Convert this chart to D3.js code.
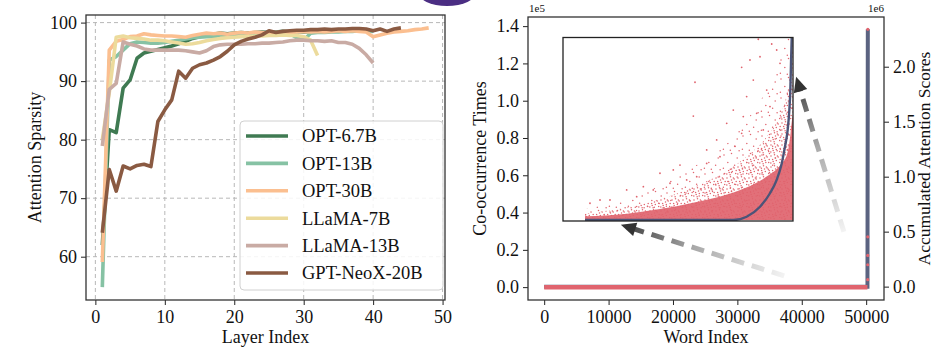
<!DOCTYPE html>
<html>
<head>
<meta charset="utf-8">
<script src="https://cdn.jsdelivr.net/npm/d3@7"></script>
<style>
  body { margin: 0; background: #fff; }
  svg text { font-family: "Liberation Serif", "Times New Roman", serif; fill: #111; }
</style>
</head>
<body>
<div id="chart"></div>
<script>
//// ---------- left panel data (attention sparsity per layer)
var layerTicks = [0, 10, 20, 30, 40, 50];
var sparsityTicks = [60, 70, 80, 90, 100];
var modelNames = ["OPT-6.7B", "OPT-13B", "OPT-30B", "LLaMA-7B", "LLaMA-13B", "GPT-NeoX-20B"];
var modelColors = ["#3f7a52", "#86c2a4", "#fbbf90", "#ecdb9c", "#c9aba4", "#8a5a42"];

var opt67b = [62, 81.7, 81.2, 88.8, 90.2, 93.9, 94.8, 95.1, 95.4, 95.7, 96.0, 96.4, 96.8, 97.3, 97.6, 98.0,
  98.0, 98.2, 98.1, 98.2, 98.3, 98.2, 98.3, 98.4, 98.3, 98.4, 98.5, 98.4, 98.5, 98.4, 98.5, 98.6];
var opt13b = [54.8, 93.6, 94.2, 95.3, 96.4, 96.7, 96.6, 96.5, 96.5, 96.6, 96.8, 97.0, 97.2, 97.4, 97.5, 97.6,
  97.6, 97.8, 97.9, 98.0, 98.0, 98.1, 98.1, 98.2, 98.2, 98.3, 98.2, 98.1, 97.4, 97.0, 98.2, 98.3,
  98.3, 98.4, 98.4, 98.5, 98.5, 98.6, 98.6, 98.5];
var opt30b = [59.1, 95.3, 96.8, 97.1, 97.6, 97.7, 98.1, 97.9, 97.8, 97.7, 97.7, 97.6, 97.5, 97.8, 98.0, 98.2,
  98.1, 98.2, 98.0, 98.2, 98.3, 98.2, 98.4, 98.3, 98.2, 98.3, 98.4, 98.3, 98.4, 98.5, 98.4, 98.5,
  98.4, 98.5, 98.6, 98.5, 98.6, 98.5, 98.4, 97.6, 97.9, 98.2, 98.4, 98.5, 98.6, 98.8, 98.9, 99.1];
var llama7b = [80, 88, 97.5, 97.7, 97.4, 97.3, 97.2, 97.0, 97.0, 96.9, 96.7, 96.5, 96.3, 96.4, 96.6, 96.9,
  97.1, 97.3, 97.4, 97.5, 97.6, 97.6, 97.7, 97.7, 97.8, 97.8, 97.9, 97.8, 97.8, 97.6, 97.0, 94.4];
var llama13b = [78.9, 88.6, 89.6, 96.7, 96.3, 96.0, 95.5, 95.3, 95.3, 95.3, 95.3, 95.3, 95.2, 95.0, 94.8, 95.2,
  95.9, 96.2, 96.3, 96.3, 96.3, 96.4, 96.4, 96.5, 96.5, 96.6, 96.7, 96.9, 97.0, 97.0, 96.9, 96.9,
  96.8, 96.9, 96.6, 96.6, 96.3, 95.6, 94.5, 93.1];
var neox20b = [64.1, 74.9, 71.2, 75.5, 75.0, 75.6, 75.8, 75.4, 83.1, 85.1, 86.8, 91.7, 90.5, 92.2, 92.8, 93.1,
  93.6, 94.2, 95.1, 96.2, 96.8, 97.2, 97.5, 97.9, 98.6, 98.3, 98.5, 98.6, 98.7, 98.7, 98.8, 98.8,
  98.9, 98.8, 98.9, 98.9, 99.0, 99.0, 98.9, 98.6, 98.9, 98.5, 98.9, 99.1];
var sparsitySeries = [opt67b, opt13b, opt30b, llama7b, llama13b, neox20b];

//// ---------- right panel data (co-occurrence vs accumulated attention)
var wordTicks = [0, 10000, 20000, 30000, 40000, 50000];
var coocTicks = [0, 20000, 40000, 60000, 80000, 100000, 120000, 140000];
var attnTicks = [0, 500000, 1000000, 1500000, 2000000];
var vocabSize = 50257;
// accumulated attention score, sorted by word index (flat then a spike at the tail)
var attnCurve = [[0, 0], [50200, 0], [50257, 2340000]];
// co-occurrence times: the bulk sits at ~0, a few tail words are large
var coocBase = [[0, 0], [50200, 0]];
var coocTail = [[50240, 4000], [50245, 12000], [50248, 17000], [50250, 27000], [50257, 138300]];
// inset (zoomed, normalised 0..1): curve, dense band, scatter envelopes, outliers
var insetCurve = [[2741, 0], [36620, 0], [39670, 0.018], [42720, 0.073], [45000, 0.147], [46530, 0.22],
  [47680, 0.311], [48430, 0.403], [49040, 0.495], [49420, 0.604], [49650, 0.714], [49800, 0.861], [49960, 1.0]];
var insetCore = [[2741, 0.02], [12336, 0.035], [19874, 0.06], [27413, 0.095], [35180, 0.14], [39749, 0.18],
  [44318, 0.24], [47288, 0.3], [48887, 0.36], [49572, 0.45], [50029, 0.55], [50257, 0.58]];
var insetMid = [[2741, 0.035], [12336, 0.07], [19874, 0.115], [27413, 0.18], [35180, 0.27], [39749, 0.35],
  [44318, 0.46], [47288, 0.58], [48887, 0.7], [49572, 0.82], [50029, 0.95], [50257, 0.97]];
var insetOuter = [[2741, 0.06], [12336, 0.12], [19874, 0.19], [27413, 0.29], [35180, 0.42], [39749, 0.55],
  [44318, 0.72], [47288, 0.88], [48887, 1.0], [50257, 1.0]];
var insetOutliers = [[42330, 0.993], [45390, 0.967], [27870, 0.757], [27490, 0.571], [38530, 0.839], [40430, 0.879],
  [39670, 0.678], [38530, 0.476], [32820, 0.44], [30540, 0.385], [24440, 0.302], [19870, 0.257], [16070, 0.183],
  [12260, 0.165], [8450, 0.11], [6170, 0.11], [3880, 0.092], [30540, 0.311], [35110, 0.531], [36620, 0.604],
  [41190, 0.769], [42720, 0.897], [46530, 0.934], [47290, 0.861], [44250, 0.714], [41960, 0.586], [33580, 0.348],
  [28260, 0.238], [22160, 0.202], [18340, 0.165], [14550, 0.128], [37010, 0.405], [43470, 0.495], [45000, 0.623],
  [38900, 0.568], [25970, 0.22], [22910, 0.275]];
// annotation arrows (data coords: word index, co-occurrence)
var arrows = [
  { from: [37270, 6100], to: [11910, 33400] },
  { from: [46540, 29650], to: [39120, 112800] }
];

var W = 935, H = 348;
var svg = d3.select("#chart").append("svg").attr("width", W).attr("height", H);
var defs = svg.append("defs");
var fontSize = 18;

//// decorative blob cut at the top edge
svg.append("ellipse").attr("cx", 447).attr("cy", -8).attr("rx", 29).attr("ry", 14).attr("fill", "#4b2e83");

//// ================= left panel
var L = { x0: 86, x1: 445, y0: 15, y1: 300 };
var xL = d3.scaleLinear().domain([-1.35, 50.35]).range([L.x0, L.x1]);
var yL = d3.scaleLinear().domain([52.6, 101.3]).range([L.y1, L.y0]);
var gl = svg.append("g");

// grid
gl.selectAll(".vg").data(layerTicks).enter().append("line")
  .attr("x1", d => xL(d)).attr("x2", d => xL(d)).attr("y1", L.y0).attr("y2", L.y1)
  .attr("stroke", "#b8b8b8").attr("stroke-dasharray", "4,3").attr("stroke-width", 1);
gl.selectAll(".hg").data(sparsityTicks).enter().append("line")
  .attr("x1", L.x0).attr("x2", L.x1).attr("y1", d => yL(d)).attr("y2", d => yL(d))
  .attr("stroke", "#b8b8b8").attr("stroke-dasharray", "4,3").attr("stroke-width", 1);

var lineL = d3.line().x((d, i) => xL(i + 1)).y(d => yL(d));
sparsitySeries.forEach(function (s, k) {
  gl.append("path").datum(s).attr("d", lineL).attr("fill", "none")
    .attr("stroke", modelColors[k]).attr("stroke-width", 3.6)
    .attr("stroke-linejoin", "round").attr("stroke-linecap", "butt");
});

// legend
var lg = gl.append("g");
lg.append("rect").attr("x", 240).attr("y", 121).attr("width", 203).attr("height", 169).attr("rx", 4)
  .attr("fill", "#fff").attr("fill-opacity", 0.85).attr("stroke", "#d0d0d0");
modelNames.forEach(function (n, i) {
  var y = 136 + i * 27.4;
  lg.append("line").attr("x1", 246).attr("x2", 288).attr("y1", y).attr("y2", y)
    .attr("stroke", modelColors[i]).attr("stroke-width", 3.6);
  lg.append("text").attr("x", 302).attr("y", y).attr("dy", "0.35em").style("font-size", "18.5px").text(n);
});

function styleAxis(g) {
  g.attr("font-family", null).attr("font-size", null);
  g.select(".domain").remove();
  g.selectAll(".tick line").attr("stroke", "#222").attr("stroke-width", 1);
  g.selectAll(".tick text").style("font-size", fontSize + "px").attr("fill", "#111");
}

gl.append("g").attr("transform", "translate(0," + L.y1 + ")")
  .call(d3.axisBottom(xL).tickValues(layerTicks).tickSize(5).tickPadding(5)).call(styleAxis);
gl.append("g").attr("transform", "translate(" + L.x0 + ",0)")
  .call(d3.axisLeft(yL).tickValues(sparsityTicks).tickSize(5).tickPadding(4)).call(styleAxis);
gl.append("rect").attr("x", L.x0).attr("y", L.y0).attr("width", L.x1 - L.x0).attr("height", L.y1 - L.y0)
  .attr("fill", "none").attr("stroke", "#333").attr("stroke-width", 1.3);

gl.append("text").attr("x", (L.x0 + L.x1) / 2).attr("y", 343).attr("text-anchor", "middle")
  .style("font-size", fontSize + "px").text("Layer Index");
gl.append("text").attr("transform", "translate(35," + (L.y0 + L.y1) / 2 + ") rotate(-90)")
  .attr("text-anchor", "middle").attr("dy", "0.35em").style("font-size", fontSize + "px").text("Attention Sparsity");

//// ================= right panel
var R = { x0: 528, x1: 884, y0: 17, y1: 300 };
var xR = d3.scaleLinear().domain([-2513, 52769]).range([R.x0, R.x1]);
var yC = d3.scaleLinear().domain([-6900, 144900]).range([R.y1, R.y0]);
var yA = d3.scaleLinear().domain([-121500, 2452000]).range([R.y1, R.y0]);
var gr = svg.append("g");
var red = "#e0646e", slate = "#5b6381";

// accumulated attention (right axis)
gr.append("path").datum(attnCurve)
  .attr("d", d3.line().x(d => xR(d[0])).y(d => yA(d[1])))
  .attr("fill", "none").attr("stroke", slate).attr("stroke-width", 4);
// co-occurrence (left axis)
gr.append("path").datum(coocBase)
  .attr("d", d3.line().x(d => xR(d[0])).y(d => yC(d[1])))
  .attr("fill", "none").attr("stroke", red).attr("stroke-width", 4.5);
gr.selectAll(".tail").data(coocTail).enter().append("circle")
  .attr("cx", d => xR(d[0])).attr("cy", d => yC(d[1])).attr("r", 1.6).attr("fill", red);

gr.append("g").attr("transform", "translate(0," + R.y1 + ")")
  .call(d3.axisBottom(xR).tickValues(wordTicks).tickFormat(d3.format("d")).tickSize(5).tickPadding(5))
  .call(styleAxis);
gr.append("g").attr("transform", "translate(" + R.x0 + ",0)")
  .call(d3.axisLeft(yC).tickValues(coocTicks).tickFormat(d => (d / 1e5).toFixed(1)).tickSize(5).tickPadding(4))
  .call(styleAxis);
gr.append("g").attr("transform", "translate(" + R.x1 + ",0)")
  .call(d3.axisRight(yA).tickValues(attnTicks).tickFormat(d => (d / 1e6).toFixed(1)).tickSize(5).tickPadding(4))
  .call(styleAxis);
gr.append("rect").attr("x", R.x0).attr("y", R.y0).attr("width", R.x1 - R.x0).attr("height", R.y1 - R.y0)
  .attr("fill", "none").attr("stroke", "#333").attr("stroke-width", 1.3);

gr.append("text").attr("x", R.x0 + 1).attr("y", 12).style("font-size", "11px").text("1e5");
gr.append("text").attr("x", R.x1).attr("y", 12).attr("text-anchor", "end").style("font-size", "11px").text("1e6");
gr.append("text").attr("x", 706).attr("y", 343).attr("text-anchor", "middle")
  .style("font-size", fontSize + "px").text("Word Index");
gr.append("text").attr("transform", "translate(480," + (R.y0 + R.y1) / 2 + ") rotate(-90)")
  .attr("text-anchor", "middle").attr("dy", "0.35em").style("font-size", fontSize + "px").text("Co-occurrence Times");
gr.append("text").attr("transform", "translate(924," + (R.y0 + R.y1) / 2 + ") rotate(-90)")
  .attr("text-anchor", "middle").attr("dy", "0.35em").style("font-size", "17.5px").text("Accumulated Attention Scores");

//// ---------- inset
var I = { x0: 563, x1: 793, y0: 37.5, y1: 221 };
var xI = d3.scaleLinear().domain([0, vocabSize]).range([573, I.x1]);
var yI = d3.scaleLinear().domain([0, 1]).range([220, 38]);
defs.append("clipPath").attr("id", "inclip").append("rect")
  .attr("x", I.x0).attr("y", I.y0).attr("width", I.x1 - I.x0).attr("height", I.y1 - I.y0);
// speckle textures for the scatter cloud
function speckle(id, size, pts) {
  var p = defs.append("pattern").attr("id", id).attr("patternUnits", "userSpaceOnUse")
    .attr("width", size).attr("height", size);
  pts.forEach(q => p.append("circle").attr("cx", q[0]).attr("cy", q[1]).attr("r", 0.75).attr("fill", red));
}
speckle("dotsDense", 11, [[1, 2], [4.5, 0.8], [8.2, 3.1], [2.6, 5.4], [6.3, 6.6], [9.7, 8.4], [0.8, 9.1],
  [4.1, 9.8], [7.4, 1.9], [5.5, 3.9], [10.2, 5.6], [3.2, 7.6]]);
speckle("dotsSparse", 19, [[2, 3], [9.5, 1.5], [15.2, 6.1], [5.8, 10.4], [12.6, 13.2], [1.4, 16.3], [17.1, 17.8],
  [8.3, 17.2]]);

var gi = gr.append("g");
gi.append("rect").attr("x", I.x0).attr("y", I.y0).attr("width", I.x1 - I.x0).attr("height", I.y1 - I.y0).attr("fill", "#fff");
var gic = gi.append("g").attr("clip-path", "url(#inclip)");
function band(data) {
  return d3.area().x(d => xI(d[0])).y0(yI(0)).y1(d => yI(d[1])).curve(d3.curveMonotoneX)(data);
}
gic.append("path").attr("d", band(insetOuter)).attr("fill", "url(#dotsSparse)");
gic.append("path").attr("d", band(insetMid)).attr("fill", "url(#dotsDense)");
gic.append("path").attr("d", band(insetCore)).attr("fill", red).attr("fill-opacity", 0.92);
gic.selectAll(".out").data(insetOutliers).enter().append("circle")
  .attr("cx", d => xI(d[0])).attr("cy", d => yI(d[1])).attr("r", 0.9).attr("fill", red);
gic.append("path").datum(insetCurve)
  .attr("d", d3.line().x(d => xI(d[0])).y(d => yI(d[1])).curve(d3.curveMonotoneX))
  .attr("fill", "none").attr("stroke", "#4c5478").attr("stroke-width", 2.4);
gi.append("rect").attr("x", I.x0).attr("y", I.y0).attr("width", I.x1 - I.x0).attr("height", I.y1 - I.y0)
  .attr("fill", "none").attr("stroke", "#222").attr("stroke-width", 1.3);

//// ---------- dashed fading arrows
arrows.forEach(function (a, i) {
  var x1 = xR(a.from[0]), y1 = yC(a.from[1]), x2 = xR(a.to[0]), y2 = yC(a.to[1]);
  var dx = x2 - x1, dy = y2 - y1, len = Math.hypot(dx, dy), ux = dx / len, uy = dy / len;
  var gid = "fade" + i;
  var grad = defs.append("linearGradient").attr("id", gid).attr("gradientUnits", "userSpaceOnUse")
    .attr("x1", x1).attr("y1", y1).attr("x2", x2).attr("y2", y2);
  grad.append("stop").attr("offset", "0%").attr("stop-color", "#f3f3f3");
  grad.append("stop").attr("offset", "55%").attr("stop-color", "#a9a9a9");
  grad.append("stop").attr("offset", "100%").attr("stop-color", "#3a3a3a");
  gr.append("line").attr("x1", x1).attr("y1", y1).attr("x2", x2 - ux * 13).attr("y2", y2 - uy * 13)
    .attr("stroke", "url(#" + gid + ")").attr("stroke-width", 5).attr("stroke-dasharray", "13,8");
  var bx = x2 - ux * 15, by = y2 - uy * 15, px = -uy * 7, py = ux * 7;
  gr.append("path").attr("d", "M" + x2 + "," + y2 + "L" + (bx + px) + "," + (by + py) + "L" + (bx - px) + "," + (by - py) + "Z")
    .attr("fill", "#333");
});
</script>
</body>
</html>
